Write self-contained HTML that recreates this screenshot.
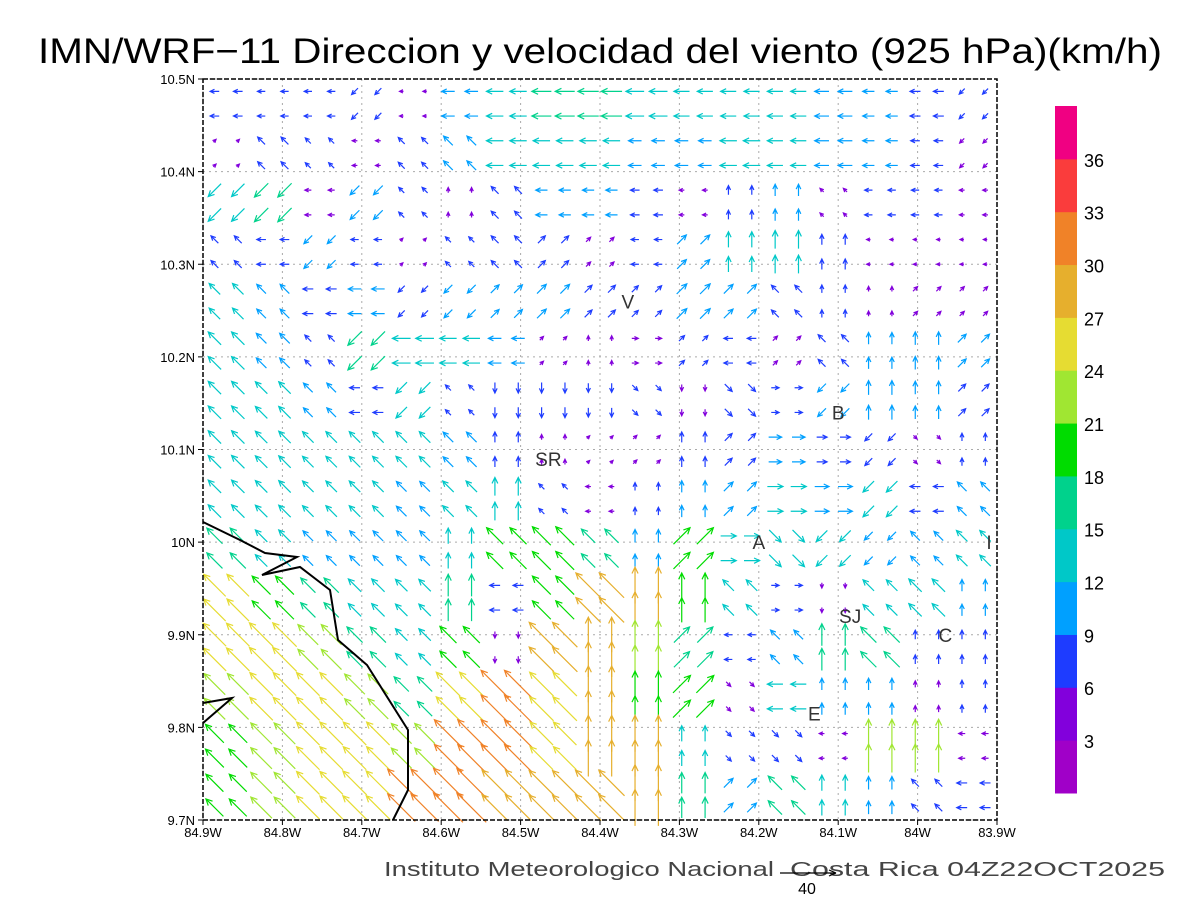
<!DOCTYPE html>
<html><head><meta charset="utf-8"><style>
body{margin:0;background:#fff;}
svg{display:block;font-family:"Liberation Sans",sans-serif;}
</style></head><body>
<svg id="chart" width="1200" height="900" viewBox="0 0 1200 900">
<text x="600" y="63" text-anchor="middle" font-size="35" textLength="1124" lengthAdjust="spacingAndGlyphs" fill="#000">IMN/WRF−11 Direccion y velocidad del viento (925 hPa)(km/h)</text>
<g id="grid"></g>
<g id="arrows"></g>
<polyline fill="none" stroke="#000" stroke-width="2" points="203,522 240,540 265,553 297,557 262,575 300,567 330,590 338,640 367,665 408,730 408,790 393,820"/>
<polyline fill="none" stroke="#000" stroke-width="2" points="203,703 232,698 203,723"/>
<rect x="203" y="79" width="794" height="741" fill="none" stroke="#000" stroke-width="1.5" stroke-dasharray="5,2"/>
<g id="axes" font-size="13" fill="#000"></g>
<g id="stations" font-size="19" fill="#333"></g>
<g id="cbar"></g>
<text x="774" y="876" text-anchor="end" font-size="20" fill="#444" textLength="390" lengthAdjust="spacingAndGlyphs">Instituto Meteorologico Nacional</text>
<text x="790" y="876" font-size="20" fill="#444" textLength="375" lengthAdjust="spacingAndGlyphs">Costa Rica 04Z22OCT2025</text>
<g stroke="#000" stroke-width="1.2">
<line x1="780" y1="873" x2="836" y2="873"/><line x1="836" y1="873" x2="829" y2="870"/><line x1="836" y1="873" x2="829" y2="876"/>
</g>
<text x="807" y="894" text-anchor="middle" font-size="16" fill="#000">40</text>
</svg>
<script>
const NS="http://www.w3.org/2000/svg";
const lonTicks=["84.9W","84.8W","84.7W","84.6W","84.5W","84.4W","84.3W","84.2W","84.1W","84W","83.9W"];
const latTicks=["10.5N","10.4N","10.3N","10.2N","10.1N","10N","9.9N","9.8N","9.7N"];
const cbarTicks=["3","6","9","12","15","18","21","24","27","30","33","36"];
const cbarColors=["#a000c8","#8200dc","#1e3cff","#00a0ff","#00c8c8","#00d28c","#00dc00","#a0e632","#e6dc32","#e6af2d","#f08228","#fa3c3c","#f00082"];
const stationNames=["V","SR","B","A","I","SJ","C","E"];
const stationLon=[84.365,84.465,84.1,84.2,83.91,84.085,83.965,84.13];
const stationLat=[10.26,10.09,10.14,10.0,10.0,9.92,9.9,9.815];
// wind direction (toward) per coarse cell, 15 rows x 17 cols
const dirRows=[
"W W W SW W W W W W W W W W W W W SW",
"NE NW NW W NW NW W W W W W W W W W W SW",
"SW SW W SW NW N NW W W W W N N NW W W W",
"NW W SW W NE NW NW NE NE W NE N N N W W W",
"NW NW W W SW SW NE NE NE NE NE NE NW N N NE NE",
"NW NW NW SW W W W NE N E NE W NE NW N N NE",
"NW NW NW W SW NW S S S SE S SE E SW N N NE",
"NW NW NW NW NW NW N N NE NE N NE E E SW SE N",
"NW NW NW NW NW NW N NW W N N NE E E SW W NW",
"NW NW NW NW NW N NW NW NW N NE E SE SW SW NW NW",
"NW NW NW NW NW N W NW NW N N NW E S NW NW N",
"NW NW NW NW NW NW S NW N N NE W NW N NW N N",
"NW NW NW NW NW NW NW NW N N NE SE W N N N N",
"NW NW NW NW NW NW NW NW N N N SE SE W N N W",
"NW NW NW NW NW NW NW NW NW N N NE NW N N NW W"];
// wind speed km/h per coarse cell
const spdRows=[
[7,6,6,7,3,10,13,15,16,14,12,12,12,11,9,8,6],
[3,8,6,4,7,10,13,13,13,10,10,13,12,11,9,7,5],
[14,15,5,10,6,4,8,9,9,7,4,7,9,4,6,6,4],
[8,7,9,6,3,6,8,8,5,6,10,12,14,8,3,3,3],
[12,10,8,10,7,9,9,10,8,7,11,10,8,6,4,5,5],
[14,11,7,15,14,13,10,4,4,5,6,7,5,8,9,10,9],
[14,13,10,8,12,6,8,8,7,6,5,8,6,9,11,10,8],
[14,13,12,12,12,11,8,4,3,4,8,8,10,8,8,4,6],
[14,13,12,12,11,12,14,6,4,6,9,10,12,11,12,8,10],
[17,13,11,11,11,12,18,20,15,10,18,12,13,12,9,10,12],
[24,20,16,14,13,17,8,20,27,28,19,12,6,4,12,14,9],
[25,26,22,17,13,18,5,27,27,22,17,6,10,17,17,7,7],
[23,25,25,22,16,26,30,26,28,20,19,5,12,9,9,5,6],
[20,23,25,25,22,30,30,25,28,28,12,6,7,4,22,22,5],
[19,23,25,26,30,32,28,27,28,28,16,10,15,12,10,8,8]];

const X0=203,X1=997,Y0=79,Y1=820;
function xOfLon(lon){return X0+(84.9-lon)/1.0*(X1-X0);}
function yOfLat(lat){return Y0+(10.5-lat)/0.8*(Y1-Y0);}
function colorOf(s){let i=Math.floor(s/3);return cbarColors[Math.max(0,Math.min(12,i))];}
const dv={N:[0,-1],S:[0,1],E:[1,0],W:[-1,0],NE:[.707,-.707],NW:[-.707,-.707],SE:[.707,.707],SW:[-.707,.707]};
function mk(tag,attrs,parent){const e=document.createElementNS(NS,tag);for(const k in attrs)e.setAttribute(k,attrs[k]);parent.appendChild(e);return e;}

const grid=document.getElementById('grid'),axes=document.getElementById('axes');
lonTicks.forEach((t,i)=>{const x=xOfLon(84.9-i*0.1);
 const l=mk('line',{x1:x,y1:Y0,x2:x,y2:Y1,stroke:'#aaa','stroke-dasharray':'2,4'},grid);
 
 
 const tk=mk('line',{x1:x,y1:Y1,x2:x,y2:Y1+5,stroke:'#000'},axes);
 
 
 const tx=mk('text',{x:x,y:Y1+17,'text-anchor':'middle'},axes);tx.textContent=t;
 
 });
latTicks.forEach((t,i)=>{const y=yOfLat(10.5-i*0.1);
 const l=mk('line',{x1:X0,y1:y,x2:X1,y2:y,stroke:'#aaa','stroke-dasharray':'2,4'},grid);
 
 
 const tk=mk('line',{x1:X0-5,y1:y,x2:X0,y2:y,stroke:'#000'},axes);
 
 
 const tx=mk('text',{x:X0-8,y:y+5,'text-anchor':'end'},axes);tx.textContent=t;
 
 });

const ag=document.getElementById('arrows');
const nR=dirRows.length,nC=17,cw=(X1-X0)/nC,ch=(Y1-Y0)/nR,K=1.3;
for(let r=0;r<nR;r++){const dirs=dirRows[r].split(' ');
 for(let c=0;c<nC;c++){const s=spdRows[r][c],d=dv[dirs[c]],col=colorOf(s);
  for(let a=0;a<2;a++)for(let b=0;b<2;b++){
   const cx=X0+(c+0.25+0.5*a)*cw,cy=Y0+(r+0.25+0.5*b)*ch,L=s*K;
   const x1=cx-d[0]*L/2,y1=cy-d[1]*L/2,x2=cx+d[0]*L/2,y2=cy+d[1]*L/2;
   const h=Math.min(7,3+L*0.2),ang=Math.atan2(d[1],d[0]);
   const p1=[x2-h*Math.cos(ang-0.45),y2-h*Math.sin(ang-0.45)],p2=[x2-h*Math.cos(ang+0.45),y2-h*Math.sin(ang+0.45)];
   const p=mk('path',{d:`M${x1},${y1}L${x2},${y2}M${p1[0]},${p1[1]}L${x2},${y2}L${p2[0]},${p2[1]}`,stroke:col,'stroke-width':1.2,fill:'none'},ag);
   
   
  }}}

const sg=document.getElementById('stations');
stationNames.forEach((n,i)=>{const t=mk('text',{x:xOfLon(stationLon[i]),y:yOfLat(stationLat[i])+7,'text-anchor':'middle'},sg);t.textContent=n;
 
 });

const cb=document.getElementById('cbar');const CY0=106,CY1=793,seg=(CY1-CY0)/cbarColors.length;
cbarColors.forEach((c,i)=>{const r=mk('rect',{x:1055,y:CY1-(i+1)*seg,width:22,height:seg+0.5,fill:c},cb);
 
 });
cbarTicks.forEach((t,i)=>{const tx=mk('text',{x:1084,y:CY1-(i+1)*seg+seg*0.15,'font-size':18},cb);
 tx.textContent=t;
 
 });
</script>
</body></html>
